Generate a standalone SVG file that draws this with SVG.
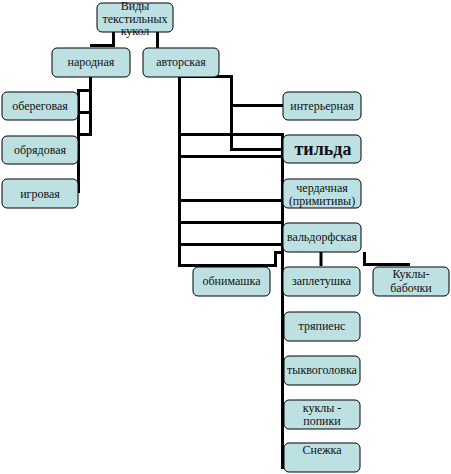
<svg xmlns="http://www.w3.org/2000/svg" width="451" height="474" viewBox="0 0 451 474">
<style>
.box{fill:#bde0e3;stroke:#000;stroke-width:1}
.t{font-family:"Liberation Serif","Times New Roman",serif;font-size:12px;fill:#111;text-anchor:middle}
.c{fill:none;stroke:#000;stroke-width:3}
</style>
<rect width="451" height="474" fill="#fff"/>
<g id="connectors" class="c">
<path d="M113.5,31 V46 M90,45.5 H115"/>
<path d="M157.5,31 V48"/>
<path d="M90.5,77 V135.5 M77,90.5 H92 M77,112.5 H92 M77,134.5 H92 M78.5,89 V193"/>
<path d="M179.5,76 V267 M178,76.5 H231.5 V151"/>
<path d="M231.5,105.5 H283 M231.5,149.5 H283"/>
<path d="M179.5,134.5 H283 M179.5,156.5 H283 M179.5,200.5 H283 M179.5,222.5 H283 M179.5,244.5 H283 M179.5,265.5 H277"/>
<path d="M282.5,133 V469"/>
<path d="M275.5,267 V252.5 H284"/>
<path d="M321,252 V266"/>
<path d="M364.5,252 V264.5 H410"/>
</g>
<g id="root"><rect class="box" x="97" y="3" width="76" height="29" rx="5"/><text class="t" x="135" y="10">Виды</text><text class="t" x="135" y="22.5">текстильных</text><text class="t" x="135" y="35">кукол</text></g>
<g id="narodnaya"><rect class="box" x="52" y="48" width="78" height="29" rx="5"/><text class="t" x="91" y="66">народная</text></g>
<g id="avtorskaya"><rect class="box" x="143" y="48" width="76" height="29" rx="5"/><text class="t" x="181" y="66">авторская</text></g>
<g id="oberegovaya"><rect class="box" x="2" y="92" width="76" height="28" rx="5"/><text class="t" x="40" y="110">обереговая</text></g>
<g id="obryadovaya"><rect class="box" x="2" y="136" width="76" height="28" rx="5"/><text class="t" x="40" y="154">обрядовая</text></g>
<g id="igrovaya"><rect class="box" x="2" y="179" width="76" height="29" rx="5"/><text class="t" x="40" y="198">игровая</text></g>
<g id="interernaya"><rect class="box" x="283" y="92" width="78" height="28" rx="5"/><text class="t" x="322" y="110">интерьерная</text></g>
<g id="tilda"><rect class="box" x="283" y="135" width="78" height="28" rx="5"/><text class="t" x="323" y="155" style="font-size:18px;font-weight:bold">тильда</text></g>
<g id="cherdachnaya"><rect class="box" x="283" y="179" width="78" height="29" rx="5"/><text class="t" x="322" y="192">чердачная</text><text class="t" x="322" y="205">(примитивы)</text></g>
<g id="valdorfskaya"><rect class="box" x="283" y="223" width="78" height="29" rx="5"/><text class="t" x="322" y="241">вальдорфская</text></g>
<g id="obnimashka"><rect class="box" x="193" y="267" width="77" height="29" rx="5"/><text class="t" x="231.5" y="285">обнимашка</text></g>
<g id="zapletushka"><rect class="box" x="283" y="267" width="77" height="29" rx="5"/><text class="t" x="321.5" y="285">заплетушка</text></g>
<g id="babochki"><rect class="box" x="373" y="267" width="76" height="29" rx="5"/><text class="t" x="411" y="278">Куклы-</text><text class="t" x="411" y="292">бабочки</text></g>
<g id="tryapiens"><rect class="box" x="284" y="312" width="76" height="29" rx="5"/><text class="t" x="322" y="330">тряпиенс</text></g>
<g id="tykvogolovka"><rect class="box" x="284" y="356" width="76" height="29" rx="5"/><text class="t" x="322" y="374">тыквоголовка</text></g>
<g id="popiki"><rect class="box" x="284" y="400" width="76" height="29" rx="5"/><text class="t" x="322" y="412">куклы -</text><text class="t" x="322" y="425">попики</text></g>
<g id="snezhka"><rect class="box" x="284" y="443" width="76" height="29" rx="5"/><text class="t" x="322" y="454">Снежка</text></g>
</svg>
